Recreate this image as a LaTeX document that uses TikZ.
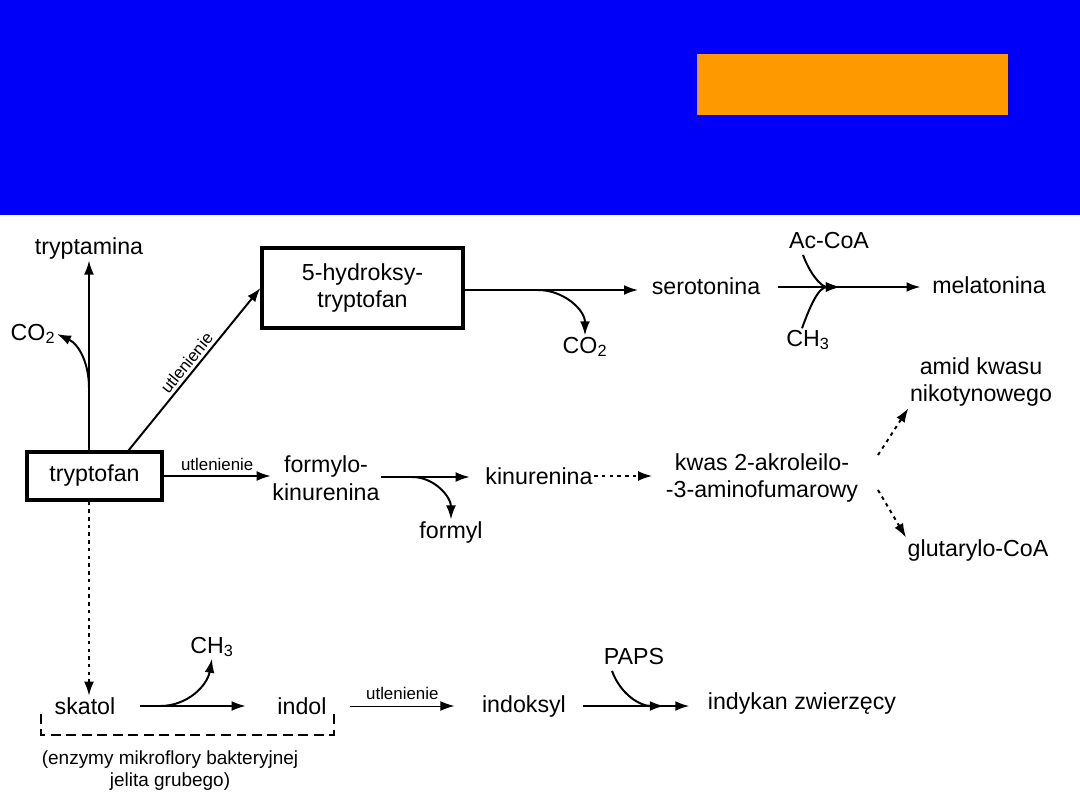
\documentclass[tikz,border=0pt]{standalone}
\usepackage{fontspec}
\setmainfont{Liberation Sans}
\usepackage{xcolor}
\usetikzlibrary{arrows.meta}

\definecolor{slideblue}{RGB}{0,0,250}
\definecolor{slideorange}{RGB}{255,153,0}

\begin{document}
\begin{tikzpicture}[
  x=0.025cm, y=-0.025cm,
  lbl/.style={font=\fontsize{16.5}{19.5}\selectfont, align=center, inner sep=1pt},
  small/.style={font=\fontsize{12}{14}\selectfont, inner sep=1pt},
  note/.style={font=\fontsize{13.5}{15.6}\selectfont, align=center, inner sep=1pt},
  boxed/.style={lbl, draw, line width=2.2pt},
  flow/.style={line width=1.4pt, -{Latex[length=10pt,width=7pt]}},
  thinflow/.style={line width=0.7pt, -{Latex[length=10pt,width=7pt]}},
  dotflow/.style={flow, dash pattern=on 2.5pt off 3pt},
  bracket/.style={line width=1.6pt, dash pattern=on 7pt off 4pt}
]

% Background
\useasboundingbox (0,0) rectangle (1080,810);
\fill[white] (0,0) rectangle (1080,810);
\fill[slideblue] (0,0) rectangle (1080,215);
\fill[slideorange] (697,54) rectangle (1008,115);

% Top row
\node[boxed, minimum width=3.375cm, minimum height=1.2cm] (trp) at (94.5,476) {tryptofan};
\node[lbl] (trpa) at (89,248) {tryptamina};
\node[lbl] (co2a) at (33,334) {CO\textsubscript{2}};
\node[boxed, minimum width=5.025cm, minimum height=2cm] (htp) at (362.5,288) {5-hydroksy-\\tryptofan};
\node[lbl] (sero) at (706,286) {serotonina};
\node[lbl] (co2b) at (585,347) {CO\textsubscript{2}};
\node[lbl] (mela) at (989,285) {melatonina};
\node[lbl] (acoa) at (829,241) {Ac-CoA};
\node[lbl] (ch3a) at (808,340) {CH\textsubscript{3}};

% Middle row
\node[lbl] (fkin) at (326,478) {formylo-\\kinurenina};
\node[lbl] (formyl) at (451,532) {formyl};
\node[lbl] (kin) at (539,476) {kinurenina};
\node[lbl] (kwas) at (762,478) {kwas 2-akroleilo-\\-3-aminofumarowy};
\node[lbl] (amid) at (981,382) {amid kwasu\\nikotynowego};
\node[lbl] (glut) at (978,550) {glutarylo-CoA};

% Bottom row
\node[lbl] (skat) at (85,706) {skatol};
\node[lbl] (ch3b) at (212,647) {CH\textsubscript{3}};
\node[lbl] (indol) at (302,706) {indol};
\node[lbl] (indok) at (524,706) {indoksyl};
\node[lbl] (paps) at (634,657) {PAPS};
\node[lbl] (indyk) at (802,704) {indykan zwierzęcy};
\node[note] (enz) at (170,771) {(enzymy mikroflory bakteryjnej\\jelita grubego)};

% Branch points
\coordinate (b1) at (89,388);
\coordinate (b2) at (538,290);
\coordinate (m1) at (840,287);
\coordinate (b3) at (412,477);
\coordinate (b4) at (160,706);
\coordinate (m2) at (664,706);
\coordinate (k1) at (878,455);
\coordinate (k2) at (878,490);
\coordinate (br1) at (41,714);
\coordinate (br2) at (334,712);

% Tryptophan pathways
\draw[flow] (trp.north -| trpa) -- (trpa.south);
\draw[flow] (b1) to[out=90, in=-25] (co2a.east);
\draw[flow] ([xshift=0.85cm]trp.north) -- (htp.west)
  node[small, midway, sloped, above=1pt] {utlenienie};
\draw[flow, shorten >=0.3cm] (htp.east |- b2) -- (sero.west |- b2);
\draw[flow] (b2) to[out=0, in=90] (co2b.north);
\draw[flow, shorten <=0.4cm, shorten >=0.25cm] (sero.east |- m1) -- (mela.west |- m1);
\draw[flow] (acoa.south) ++(-26,4) to[out=-70, in=180] (m1);
\draw[flow] (ch3a.north) ++(-6,0) to[out=70, in=180] (m1);

\draw[flow] (trp.east) -- (fkin.west |- trp.east)
  node[small, midway, above=2pt] {utlenienie};
\draw[flow, shorten >=0.35cm] (fkin.east |- b3) -- (kin.west |- b3);
\draw[flow] (b3) to[out=0, in=90] (formyl.north);
\draw[dotflow, shorten >=0.3cm] (kin.east) -- (kwas.west |- kin.east);
\draw[dotflow] (k1) -- (amid.south west);
\draw[dotflow] (k2) -- (glut.north west);

% Bottom pathway
\draw[dotflow] (trp.south -| trpa) -- (skat.north -| trpa);
\draw[flow, shorten <=0.58cm, shorten >=0.75cm] (skat.east) -- (indol.west);
\draw[flow] (b4) to[out=0, in=-100] (ch3b.south);
\draw[thinflow] ([xshift=0.55cm]indol.east) -- ([xshift=-0.65cm]indok.west)
  node[small, midway, above=3pt] {utlenienie};
\draw[flow, shorten <=0.38cm, shorten >=0.42cm] (indok.east) -- (indok.east -| indyk.west);
\draw[flow] (paps.south) ++(-22,4) to[out=-70, in=180] (m2);

% Bracket under skatol and indol
\draw[bracket] (br1) -- ++(0,21) -| (br2);

\end{tikzpicture}
\end{document}
